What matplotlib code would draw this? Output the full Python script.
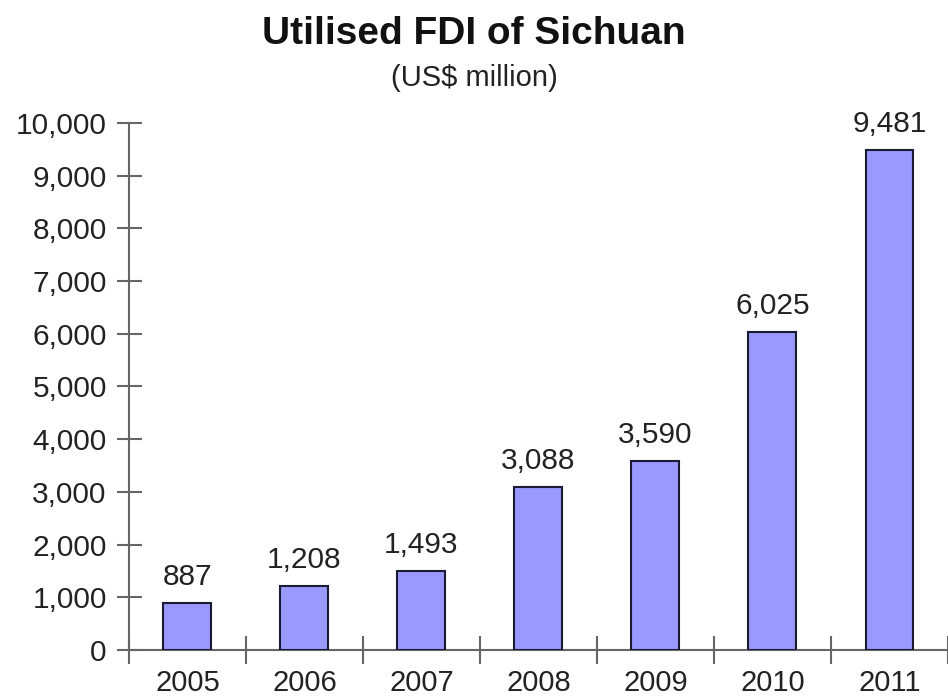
import numpy as np
import matplotlib.pyplot as plt
from matplotlib.ticker import FuncFormatter

years = ['2005', '2006', '2007', '2008', '2009', '2010', '2011']
fdi = [887, 1208, 1493, 3088, 3590, 6025, 9481]

plt.rcParams['font.family'] = ['Liberation Sans', 'DejaVu Sans']

fig = plt.figure(figsize=(9.48, 6.99), dpi=100)
ax = fig.add_axes([0.136, 0.0701, 0.864, 0.754])

x = np.arange(len(years))
ax.bar(x, fdi, width=0.41, color='#9999ff', edgecolor='#1a1a33', linewidth=1.5, zorder=3)

for xi, v in zip(x, fdi):
    ax.text(xi, v + 230, f'{v:,}', ha='center', va='bottom', fontsize=21.5, color='#222222')

ax.set_xlim(-0.5, 6.5)
ax.set_ylim(0, 10000)
ax.set_yticks(np.arange(0, 10001, 1000))
ax.yaxis.set_major_formatter(FuncFormatter(lambda v, p: f'{int(v):,}'))
ax.set_xticks(x)
ax.set_xticklabels(years)
ax.set_xticks(np.arange(-0.5, 7, 1), minor=True)

for s in ['top', 'right']:
    ax.spines[s].set_visible(False)
for s in ['left', 'bottom']:
    ax.spines[s].set_color('#666666')
    ax.spines[s].set_linewidth(1.5)

ax.tick_params(axis='y', which='major', direction='inout', length=18, width=1.5,
               color='#666666', labelsize=21.5, labelcolor='#222222', pad=7)
ax.tick_params(axis='x', which='major', length=0, labelsize=21, labelcolor='#222222', pad=14)
ax.tick_params(axis='x', which='minor', direction='inout', length=20, width=1.5, color='#666666')

fig.text(0.5, 0.951, 'Utilised FDI of Sichuan', ha='center', va='center',
         fontsize=28, fontweight='bold', color='#111111')
fig.text(0.5, 0.889, '(US$ million)', ha='center', va='center', fontsize=21, color='#222222')

fig.savefig('out.png', dpi=100)
